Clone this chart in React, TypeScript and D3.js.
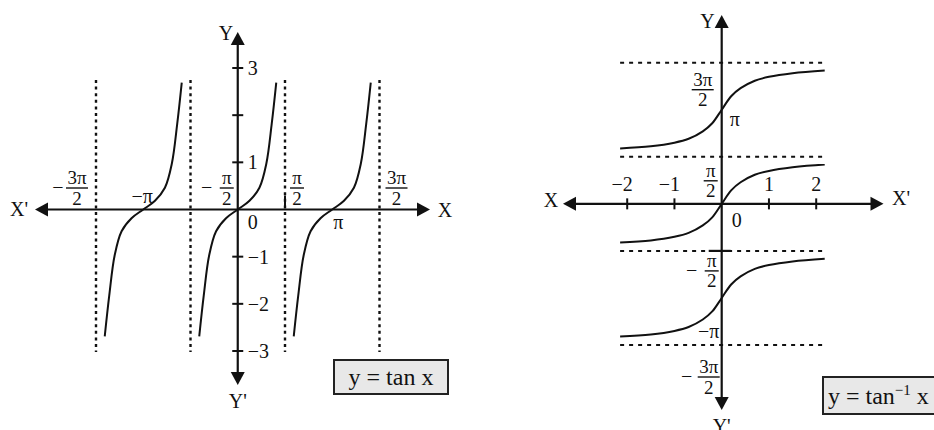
import React from "react";
import * as d3 from "d3";

const PI = Math.PI;

// ---------- Left figure: y = tan x ----------
const tanYTicks = [-3, -2, -1, 1, 2, 3];
const tanYTickLabels = ["−3", "−2", "−1", "1", "", "3"];
const tanAsymptotes = [-1.5 * PI, -0.5 * PI, 0.5 * PI, 1.5 * PI];
const tanBranchCenters = [-PI, 0, PI];
// one branch of the curve (x in radians from branch centre, y value)
const tanBranchX = [-1.28, -1.13, -0.95, -0.72, -0.39, 0, 0.39, 0.72, 0.95, 1.13, 1.28];
const tanBranchY = [-2.69, -1.82, -0.97, -0.46, -0.185, 0, 0.185, 0.46, 0.97, 1.82, 2.69];
const tanLegend = "y = tan x";

// ---------- Right figure: y = tan^-1 x ----------
const atanXTicks = [-2, -1, 1, 2];
const atanXTickLabels = ["−2", "−1", "1", "2"];
const atanAsymptotes = [-1.5 * PI, -0.5 * PI, 0.5 * PI, 1.5 * PI];
const atanBranchOffsets = [-PI, 0, PI];
const atanBranchX = [-2.15, -1.5, -1.0, -0.7, -0.4, -0.2, 0, 0.2, 0.4, 0.7, 1.0, 1.5, 2.18];
const atanBranchY = [-1.29, -1.22, -1.1, -0.97, -0.72, -0.45, 0, 0.45, 0.72, 0.97, 1.1, 1.22, 1.31];

const FONT = "'Liberation Serif', 'Times New Roman', serif";
const INK = "#111";

function Frac({ cx, bar, num, den = "2", minusX }: { cx: number; bar: number; num: string; den?: string; minusX?: number }) {
  const w = num.length > 1 ? 22 : 14;
  return (
    <g fontSize={19}>
      {minusX !== undefined && (
        <text x={minusX} y={bar + 6} textAnchor="middle" fontSize={20}>−</text>
      )}
      <text x={cx} y={bar - 4} textAnchor="middle">{num}</text>
      <line x1={cx - w / 2} x2={cx + w / 2} y1={bar} y2={bar} stroke={INK} strokeWidth={1.4} />
      <text x={cx} y={bar + 16.5} textAnchor="middle">{den}</text>
    </g>
  );
}

function Arrow({ x, y, dir }: { x: number; y: number; dir: "up" | "down" | "left" | "right" }) {
  const L = 13, H = 7;
  let d = "";
  if (dir === "up") d = `M${x},${y} L${x - H},${y + L} L${x + H},${y + L} Z`;
  if (dir === "down") d = `M${x},${y} L${x - H},${y - L} L${x + H},${y - L} Z`;
  if (dir === "left") d = `M${x},${y} L${x + L},${y - H} L${x + L},${y + H} Z`;
  if (dir === "right") d = `M${x},${y} L${x - L},${y - H} L${x - L},${y + H} Z`;
  return <path d={d} fill={INK} />;
}

export default function App() {
  // left scales
  const xL = d3.scaleLinear().domain([-1.5 * PI, 1.5 * PI]).range([96, 379.5]);
  const yL = d3.scaleLinear().domain([-3, 3]).range([351, 68]);
  const x0L = xL(0), y0L = yL(0);

  const tanPts = tanBranchX.map((x, i) => [x, tanBranchY[i]] as [number, number]);
  const tanLine = (c: number) =>
    d3.line<[number, number]>()
      .x((d) => xL(d[0] + c))
      .y((d) => yL(d[1]))
      .curve(d3.curveCatmullRom.alpha(0.5))(tanPts) as string;

  // right scales
  const xR = d3.scaleLinear().domain([-2, 2]).range([627.2, 816.2]);
  const yR = d3.scaleLinear().domain([-1.5 * PI, 1.5 * PI]).range([345, 62.7]);
  const x0R = xR(0), y0R = yR(0);

  const atanPts = atanBranchX.map((x, i) => [x, atanBranchY[i]] as [number, number]);
  const atanLine = (o: number) =>
    d3.line<[number, number]>()
      .x((d) => xR(d[0]))
      .y((d) => yR(d[1] + o))
      .curve(d3.curveCatmullRom.alpha(0.5))(atanPts) as string;
  const dashX1 = xR(atanBranchX[0]);
  const dashX2 = xR(atanBranchX[atanBranchX.length - 1]) + 1;

  return (
    <svg
      width={934}
      height={430}
      style={{ position: "absolute", left: 0, top: 0, background: "#fff" }}
      fontFamily={FONT}
      fontSize={20}
      fill={INK}
    >
      {/* ================= LEFT: y = tan x ================= */}
      <g>
        {tanAsymptotes.map((a, i) => (
          <line key={i} x1={xL(a)} x2={xL(a)} y1={80} y2={352} stroke={INK} strokeWidth={2.4} strokeDasharray="3,3.6" />
        ))}
        <line x1={40} x2={425} y1={y0L} y2={y0L} stroke={INK} strokeWidth={2.2} />
        <line x1={x0L} x2={x0L} y1={38} y2={380} stroke={INK} strokeWidth={2.2} />
        <Arrow x={35} y={y0L} dir="left" />
        <Arrow x={430} y={y0L} dir="right" />
        <Arrow x={x0L} y={32} dir="up" />
        <Arrow x={x0L} y={385} dir="down" />
        {tanYTicks.map((t, i) => (
          <g key={t}>
            <line x1={x0L - 5.5} x2={x0L + 5.5} y1={yL(t)} y2={yL(t)} stroke={INK} strokeWidth={2} />
            {tanYTickLabels[i] && (
              <text x={x0L + 10} y={yL(t) + 7}>{tanYTickLabels[i]}</text>
            )}
          </g>
        ))}
        <line x1={xL(PI / 2)} x2={xL(PI / 2)} y1={y0L - 14} y2={y0L - 2} stroke={INK} strokeWidth={2} />
        {tanBranchCenters.map((c, i) => (
          <path key={i} d={tanLine(c)} fill="none" stroke={INK} strokeWidth={2} />
        ))}
        <Frac cx={xL(-1.5 * PI) - 19} bar={188} num="3π" minusX={xL(-1.5 * PI) - 38} />
        <text x={xL(-PI) - 1} y={203} textAnchor="middle">−π</text>
        <Frac cx={x0L - 11} bar={188} num="π" minusX={x0L - 31} />
        <Frac cx={xL(PI / 2) + 12} bar={188} num="π" />
        <Frac cx={xL(1.5 * PI) + 17} bar={188} num="3π" />
        <text x={xL(PI) + 6} y={229} textAnchor="middle">π</text>
        <text x={x0L + 15} y={229} textAnchor="middle">0</text>
        <text x={226} y={40} textAnchor="middle">Y</text>
        <text x={x0L} y={408} textAnchor="middle">Y'</text>
        <text x={19} y={216} textAnchor="middle">X'</text>
        <text x={445} y={217} textAnchor="middle">X</text>
        <rect x={334} y={360} width={114} height={34} fill="#e8e8e8" stroke="#222" strokeWidth={2} />
        <text x={391} y={385} textAnchor="middle" fontSize={24}>{tanLegend}</text>
      </g>

      {/* ================= RIGHT: y = tan^-1 x ================= */}
      <g>
        {atanAsymptotes.map((a, i) => (
          <line key={i} x1={dashX1} x2={dashX2} y1={yR(a)} y2={yR(a)} stroke={INK} strokeWidth={2} strokeDasharray="4,5" />
        ))}
        <line x1={568} x2={878} y1={y0R} y2={y0R} stroke={INK} strokeWidth={2.2} />
        <line x1={x0R} x2={x0R} y1={20} y2={405} stroke={INK} strokeWidth={2.2} />
        <Arrow x={563} y={y0R} dir="left" />
        <Arrow x={883.5} y={y0R} dir="right" />
        <Arrow x={x0R} y={15} dir="up" />
        <Arrow x={x0R} y={410} dir="down" />
        {atanXTicks.map((t, i) => (
          <g key={t}>
            <line x1={xR(t)} x2={xR(t)} y1={y0R - 5.5} y2={y0R + 5.5} stroke={INK} strokeWidth={2} />
            <text
              x={t < 0 ? xR(t) + 5.5 : xR(t)}
              y={191}
              textAnchor={t < 0 ? "end" : "middle"}
            >
              {atanXTickLabels[i]}
            </text>
          </g>
        ))}
        <line x1={x0R - 13} x2={x0R + 9} y1={yR(-PI / 2)} y2={yR(-PI / 2)} stroke={INK} strokeWidth={2.2} />
        {atanBranchOffsets.map((o, i) => (
          <path key={i} d={atanLine(o)} fill="none" stroke={INK} strokeWidth={2} />
        ))}
        <Frac cx={x0R - 19} bar={yR(1.5 * PI) + 27} num="3π" />
        <text x={x0R + 8} y={yR(PI) + 16}>π</text>
        <Frac cx={x0R - 11} bar={yR(PI / 2) + 24} num="π" />
        <text x={x0R + 15} y={227} textAnchor="middle">0</text>
        <Frac cx={x0R - 10} bar={yR(-PI / 2) + 20} num="π" minusX={x0R - 30} />
        <text x={x0R - 13} y={yR(-PI) + 40} textAnchor="middle">−π</text>
        <Frac cx={x0R - 13} bar={yR(-1.5 * PI) + 32} num="3π" minusX={x0R - 35} />
        <text x={707.5} y={28} textAnchor="middle">Y</text>
        <text x={x0R} y={433} textAnchor="middle">Y'</text>
        <text x={551} y={207} textAnchor="middle">X</text>
        <text x={892} y={205}>X'</text>
        <rect x={823} y={377} width={120} height={37} fill="#e8e8e8" stroke="#222" strokeWidth={2} />
        <text x={828} y={404} fontSize={24}>
          y = tan
          <tspan dy={-9} fontSize={15}>−1</tspan>
          <tspan dy={9}> x</tspan>
        </text>
      </g>
    </svg>
  );
}
